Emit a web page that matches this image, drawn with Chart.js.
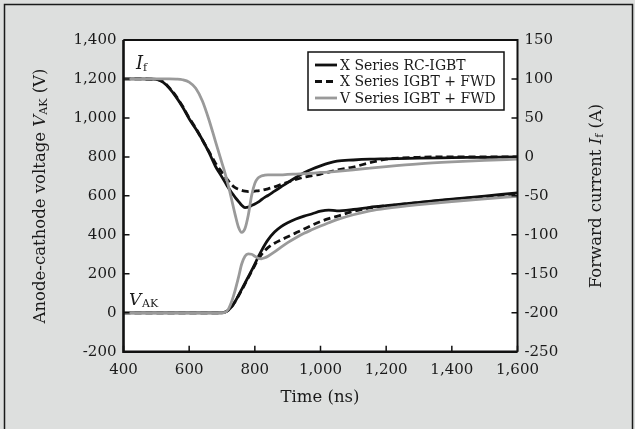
<!DOCTYPE html>
<html>
<head>
<meta charset="utf-8">
<script src="https://cdn.jsdelivr.net/npm/chart.js@4"></script>
<style>
  html, body { margin: 0; padding: 0; background: #dddfde; }
  #wrap { width: 635px; height: 429px; position: relative; }
</style>
</head>
<body>
<div id="wrap"><canvas id="recovery"></canvas></div>
<script>
// time axis (ns), shared by all curves
const timeNs = [400, 450, 500, 520, 540, 560, 580, 600, 620, 640, 660, 680, 700, 710, 720, 730, 740, 750, 760, 770,
                780, 790, 800, 810, 820, 830, 840, 860, 880, 900, 925, 950, 975, 1000, 1025, 1050, 1100, 1150, 1200, 1300,
                1400, 1500, 1600];

// forward current If (A), right axis
const ifRcIgbt = [100, 100, 99.5, 96, 88, 77, 64, 49, 36, 22, 6, -12, -26, -33, -40, -46, -52, -57, -62, -65,
                  -64.5, -62.5, -60.5, -58, -55, -52, -49.5, -44, -38.5, -33, -26.5, -20.5, -15.5, -11.5, -8, -5.5, -4, -3, -2.5, -1.5,
                  -1, -0.5, 0];
const ifXFwd = [100, 100, 99.5, 96.5, 88.5, 78, 65, 50, 37, 22, 7, -8, -20, -26, -31, -36, -39.5, -41.5, -43, -44,
                -44.5, -44.5, -44, -43.5, -43, -42, -41, -38.5, -35.5, -32.5, -29, -26, -24, -22, -19.5, -17, -13, -7.5, -3, -0.5,
                0, 0, 0];
const ifVFwd = [100, 100, 100, 100, 100, 99.8, 99, 96, 88, 72, 48, 20, -8, -22, -38, -56, -74, -90, -97, -92,
                -75, -50, -34, -27, -24.5, -23.5, -23, -23, -23, -22.5, -22, -21.5, -21, -20, -19.5, -18.5, -16.5, -14.5, -12.5, -9,
                -6.5, -4.5, -3];

// anode-cathode voltage VAK (V), left axis
const vakRcIgbt = [0, 0, 0, 0, 0, 0, 0, 0, 0, 0, 0, 0, 0, 4, 14, 32, 58, 88, 120, 152,
                   184, 216, 250, 285, 318, 348, 374, 414, 442, 462, 481, 496, 508, 521, 527, 523, 530, 541, 550, 567,
                   583, 599, 615];
const vakXFwd = [0, 0, 0, 0, 0, 0, 0, 0, 0, 0, 0, 0, 0, 4, 14, 32, 57, 86, 116, 148,
                 180, 212, 244, 273, 298, 318, 334, 357, 374, 390, 410, 430, 450, 468, 483, 495, 520, 538, 548, 565,
                 581, 595, 608];
const vakVFwd = [0, 0, 0, 0, 0, 0, 0, 0, 0, 0, 0, 0, 0, 3, 20, 60, 115, 180, 250, 290,
                 302, 300, 290, 280, 277, 282, 290, 312, 337, 360, 385, 408, 427, 445, 462, 478, 503, 523, 536, 555,
                 571, 585, 598];

const seriesNames = ['X Series RC-IGBT', 'X Series IGBT + FWD', 'V Series IGBT + FWD'];
const vakTicks = [-200, 0, 200, 400, 600, 800, 1000, 1200, 1400];
const ifTicks = [-250, -200, -150, -100, -50, 0, 50, 100, 150];
const timeTicks = [400, 600, 800, 1000, 1200, 1400, 1600];

const SERIF = '"DejaVu Serif", "Liberation Serif", serif';
const styles = [
    { color: '#111111', dash: [] },
    { color: '#111111', dash: [7, 4] },
    { color: '#9a9a9a', dash: [] }
];

function pts(values) {
    return timeNs.map((t, i) => ({ x: t, y: values[i] }));
}

function ds(label, values, axis, s) {
    return {
        label: label,
        data: pts(values),
        yAxisID: axis,
        borderColor: styles[s].color,
        borderDash: styles[s].dash,
        borderWidth: 2.8,
        pointRadius: 0,
        cubicInterpolationMode: 'monotone',
        fill: false
    };
}

// draws text made of several runs (for subscripts / italics)
function drawRich(ctx, parts, x, y, rot) {
    ctx.save();
    ctx.translate(x, y);
    ctx.rotate(rot);
    let w = 0;
    parts.forEach(p => { ctx.font = p.font; w += ctx.measureText(p.text).width; });
    let cx = -w / 2;
    ctx.textAlign = 'left';
    ctx.textBaseline = 'alphabetic';
    ctx.fillStyle = '#1a1a1a';
    parts.forEach(p => {
        ctx.font = p.font;
        ctx.fillText(p.text, cx, p.dy || 0);
        cx += ctx.measureText(p.text).width;
    });
    ctx.restore();
}

const decor = {
    id: 'decor',
    beforeDraw(chart) {
        const { ctx, chartArea: a } = chart;
        ctx.save();
        ctx.fillStyle = '#dddfde';
        ctx.fillRect(0, 0, chart.width, chart.height);
        ctx.fillStyle = '#ffffff';
        ctx.fillRect(a.left, a.top, a.right - a.left, a.bottom - a.top);
        // outer frame of the figure
        ctx.strokeStyle = '#1a1a1a';
        ctx.lineWidth = 1.5;
        ctx.beginPath();
        ctx.moveTo(4.5, chart.height + 2);
        ctx.lineTo(4.5, 4.5);
        ctx.lineTo(632.5, 4.5);
        ctx.lineTo(632.5, chart.height + 2);
        ctx.stroke();
        ctx.restore();
    },
    afterDatasetsDraw(chart) {
        const { ctx, chartArea: a, scales } = chart;
        ctx.save();
        ctx.strokeStyle = '#111';
        // plot frame
        ctx.lineWidth = 2;
        ctx.beginPath();
        ctx.moveTo(a.left, a.top); ctx.lineTo(a.right, a.top); ctx.lineTo(a.right, a.bottom);
        ctx.stroke();
        ctx.lineWidth = 2.6;
        ctx.beginPath();
        ctx.moveTo(a.left, a.top); ctx.lineTo(a.left, a.bottom); ctx.lineTo(a.right, a.bottom);
        ctx.stroke();
        // inward tick marks
        ctx.lineWidth = 1.5;
        ctx.beginPath();
        vakTicks.forEach(v => { const y = scales.y.getPixelForValue(v); ctx.moveTo(a.left, y); ctx.lineTo(a.left + 6, y); });
        ifTicks.forEach(v => { const y = scales.y2.getPixelForValue(v); ctx.moveTo(a.right, y); ctx.lineTo(a.right - 6, y); });
        timeTicks.forEach(v => { const x = scales.x.getPixelForValue(v); ctx.moveTo(x, a.bottom); ctx.lineTo(x, a.bottom - 6); });
        ctx.stroke();

        // legend box
        const lx = 308, ly = 52, lw = 196, lh = 58;
        ctx.fillStyle = '#fff';
        ctx.fillRect(lx, ly, lw, lh);
        ctx.lineWidth = 1.5;
        ctx.strokeRect(lx, ly, lw, lh);
        seriesNames.forEach((name, i) => {
            const y = ly + 13 + i * 16.5;
            ctx.strokeStyle = styles[i].color;
            ctx.setLineDash(styles[i].dash);
            ctx.lineWidth = 2.8;
            ctx.beginPath(); ctx.moveTo(315, y); ctx.lineTo(337, y); ctx.stroke();
            ctx.setLineDash([]);
            ctx.fillStyle = '#1a1a1a';
            ctx.font = '14px ' + SERIF;
            ctx.textBaseline = 'middle';
            ctx.textAlign = 'left';
            ctx.fillText(name, 340, y + 1);
        });
        ctx.restore();

        // curve labels
        ctx.save();
        ctx.fillStyle = '#1a1a1a';
        ctx.textBaseline = 'alphabetic';
        ctx.font = 'italic 18px ' + SERIF;
        ctx.fillText('I', 136, 69);
        ctx.font = '11px ' + SERIF;
        ctx.fillText('f', 143, 71);
        ctx.font = 'italic 17px ' + SERIF;
        ctx.fillText('V', 129, 305);
        ctx.font = '11px ' + SERIF;
        ctx.fillText('AK', 142, 307);
        ctx.restore();

        // axis titles
        const big = '16.5px ' + SERIF, ital = 'italic 16.5px ' + SERIF, sub = '11px ' + SERIF;
        drawRich(ctx, [
            { text: 'Anode-cathode voltage ', font: big },
            { text: 'V', font: ital },
            { text: 'AK', font: sub, dy: 2 },
            { text: ' (V)', font: big }
        ], 45, 196, -Math.PI / 2);
        drawRich(ctx, [
            { text: 'Forward current ', font: big },
            { text: 'I', font: ital },
            { text: 'f', font: sub, dy: 2 },
            { text: ' (A)', font: big }
        ], 601, 196, -Math.PI / 2);
        drawRich(ctx, [{ text: 'Time (ns)', font: big, dy: 6 }], 320, 396, 0);
    }
};

const ctx = document.getElementById('recovery').getContext('2d');

new Chart(ctx, {
    type: 'line',
    data: {
        datasets: [
            ds(seriesNames[2], ifVFwd, 'y2', 2),
            ds(seriesNames[2], vakVFwd, 'y', 2),
            ds(seriesNames[1], ifXFwd, 'y2', 1),
            ds(seriesNames[1], vakXFwd, 'y', 1),
            ds(seriesNames[0], ifRcIgbt, 'y2', 0),
            ds(seriesNames[0], vakRcIgbt, 'y', 0)
        ]
    },
    options: {
        responsive: true,
        maintainAspectRatio: false,
        animation: false,
        locale: 'en-US',
        layout: { padding: { top: 40, left: 0, right: 0, bottom: 0 } },
        plugins: {
            legend: { display: false },
            tooltip: { enabled: false }
        },
        scales: {
            x: {
                type: 'linear',
                min: 400,
                max: 1600,
                afterFit: s => { s.height = 77.3; },
                afterBuildTicks: s => { s.ticks = timeTicks.map(v => ({ value: v })); },
                grid: { display: false, drawTicks: false },
                border: { display: false },
                ticks: { padding: 9, color: '#1a1a1a', font: { family: SERIF, size: 15 }, maxRotation: 0 }
            },
            y: {
                position: 'left',
                min: -200,
                max: 1400,
                afterFit: s => { s.width = 123.5; },
                afterBuildTicks: s => { s.ticks = vakTicks.map(v => ({ value: v })); },
                grid: { display: false, drawTicks: false },
                border: { display: false },
                ticks: { padding: 7, color: '#1a1a1a', font: { family: SERIF, size: 15 } }
            },
            y2: {
                position: 'right',
                min: -250,
                max: 150,
                afterFit: s => { s.width = 117.5; },
                afterBuildTicks: s => { s.ticks = ifTicks.map(v => ({ value: v })); },
                grid: { display: false, drawTicks: false },
                border: { display: false },
                ticks: { padding: 7, color: '#1a1a1a', font: { family: SERIF, size: 15 } }
            }
        }
    },
    plugins: [decor]
});
</script>
</body>
</html>
